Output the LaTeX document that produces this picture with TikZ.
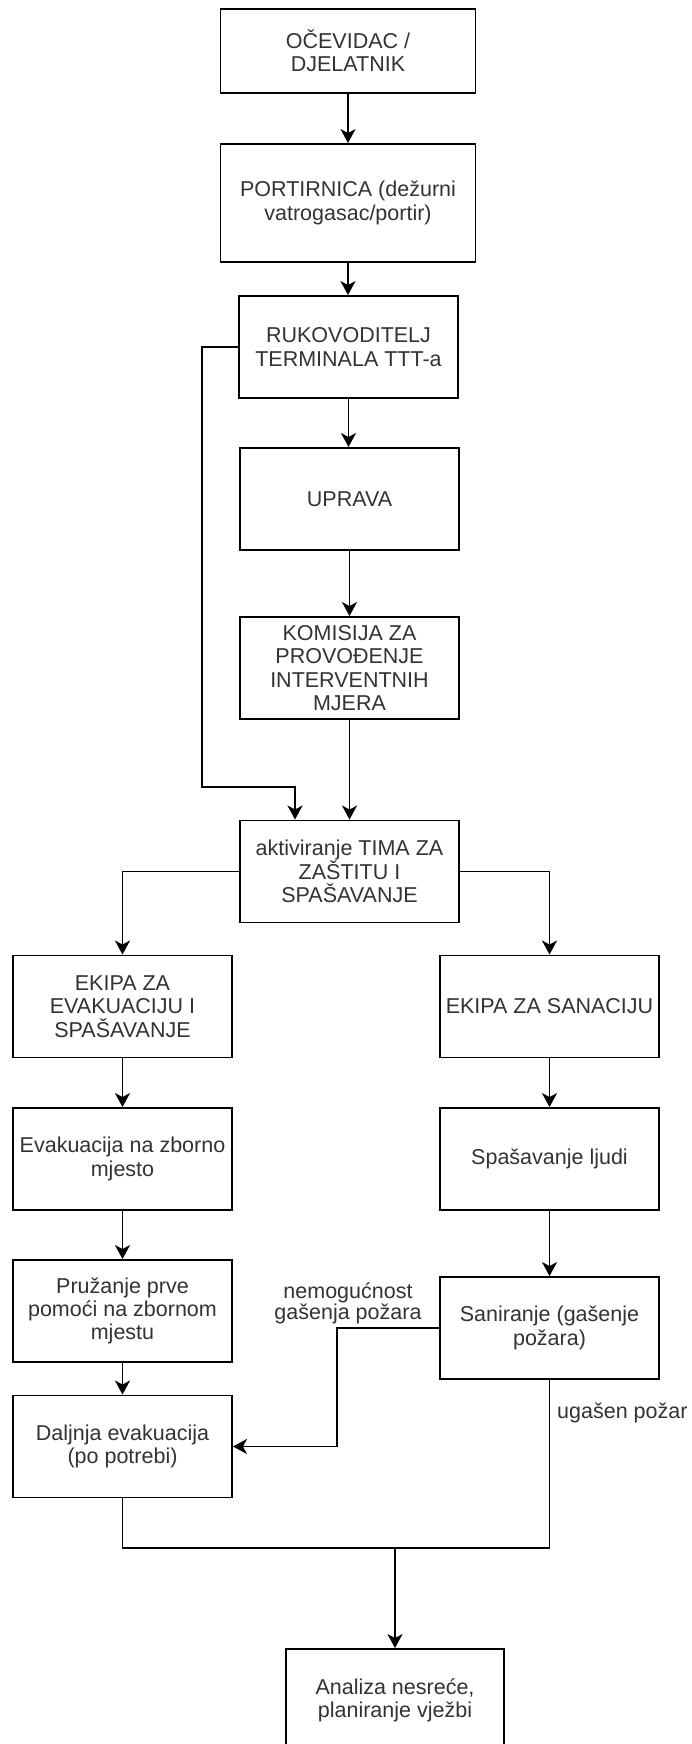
\documentclass[tikz,border=0pt]{standalone}
\usepackage{fontspec}
\setmainfont{Liberation Sans}
\usetikzlibrary{arrows.meta}
\begin{document}
\begin{tikzpicture}[x=1pt,y=-1pt,
  lw/.style={line width=1.9pt},
  bx/.style={draw=black, lw, fill=white, inner sep=0pt, align=center,
    minimum width=219pt, minimum height=102pt, text=black!80,
    font=\fontsize{21.5}{23.3}\selectfont},
  lbl/.style={inner sep=0pt, align=center, text=black!80,
    font=\fontsize{21.5}{21}\selectfont},
  arr/.style={lw, -{Stealth[length=14pt,width=15pt,inset=4pt]}},
  ln/.style={lw}]
\useasboundingbox (0,0) rectangle (691,1744);
\clip (0,0) rectangle (691,1744);

% central column
\node[bx, minimum width=255pt, minimum height=84pt] (n1) at (348,51) {OČEVIDAC /\\DJELATNIK};
\node[bx, minimum width=255pt, minimum height=118pt] (n2) at (348,203) {PORTIRNICA (dežurni\\vatrogasac/portir)};
\node[bx] (n3) at (348.5,347) {RUKOVODITELJ\\TERMINALA TTT-a};
\node[bx] (n4) at (349.5,499) {UPRAVA};
\node[bx] (n5) at (349.5,668) {KOMISIJA ZA\\PROVOĐENJE\\INTERVENTNIH\\MJERA};
\node[bx] (n6) at (349.5,871.5) {aktiviranje TIMA ZA\\ZAŠTITU I\\SPAŠAVANJE};

% left column
\node[bx] (n7) at (122.5,1006.5) {EKIPA ZA\\EVAKUACIJU I\\SPAŠAVANJE};
\node[bx] (n9) at (122.5,1159) {Evakuacija na zborno\\mjesto};
\node[bx] (n11) at (122.5,1311) {Pružanje prve\\pomoći na zbornom\\mjestu};
\node[bx] (n13) at (122.5,1446.5) {Daljnja evakuacija\\(po potrebi)};

% right column
\node[bx] (n8) at (549.5,1006.5) {EKIPA ZA SANACIJU};
\node[bx] (n10) at (549.5,1159) {Spašavanje ljudi};
\node[bx] (n12) at (549.5,1328) {Saniranje (gašenje\\požara)};

% bottom
\node[bx, minimum width=218pt] (n14) at (395,1700) {Analiza nesreće,\\planiranje vježbi};

% labels
\node[lbl] (l1) at (348,1303) {nemogućnost\\gašenja požara};
\node[lbl, anchor=west] (l2) at (557,1413) {ugašen požar};

% helper coordinates
\coordinate (c1) at (202,787);
\coordinate (c2) at (295,787);
\coordinate (c3) at (337,1446.5);
\coordinate (j) at (395,1548);

% connectors
\draw[arr] (n1) -- (n2);
\draw[arr] (n2.south) -- (n2.south |- n3.north);
\draw[arr] (n3.south) -- (n3.south |- n4.north);
\draw[arr] (n4) -- (n5);
\draw[arr] (n5) -- (n6);
\draw[arr] (n3.west) -| (c1) -- (c2) -- (c2 |- n6.north);
\draw[arr] (n6.west) -| (n7.north);
\draw[arr] (n6.east) -| (n8.north);
\draw[arr] (n7) -- (n9);
\draw[arr] (n9) -- (n11);
\draw[arr] (n11) -- (n13);
\draw[arr] (n8) -- (n10);
\draw[arr] (n10) -- (n12);
\draw[arr] (n12.west) -| (c3) -- (n13.east);
\draw[arr] (n13.south) |- (j) -- (n14.north);
\draw[ln] (n12.south) |- (j);
\end{tikzpicture}
\end{document}
